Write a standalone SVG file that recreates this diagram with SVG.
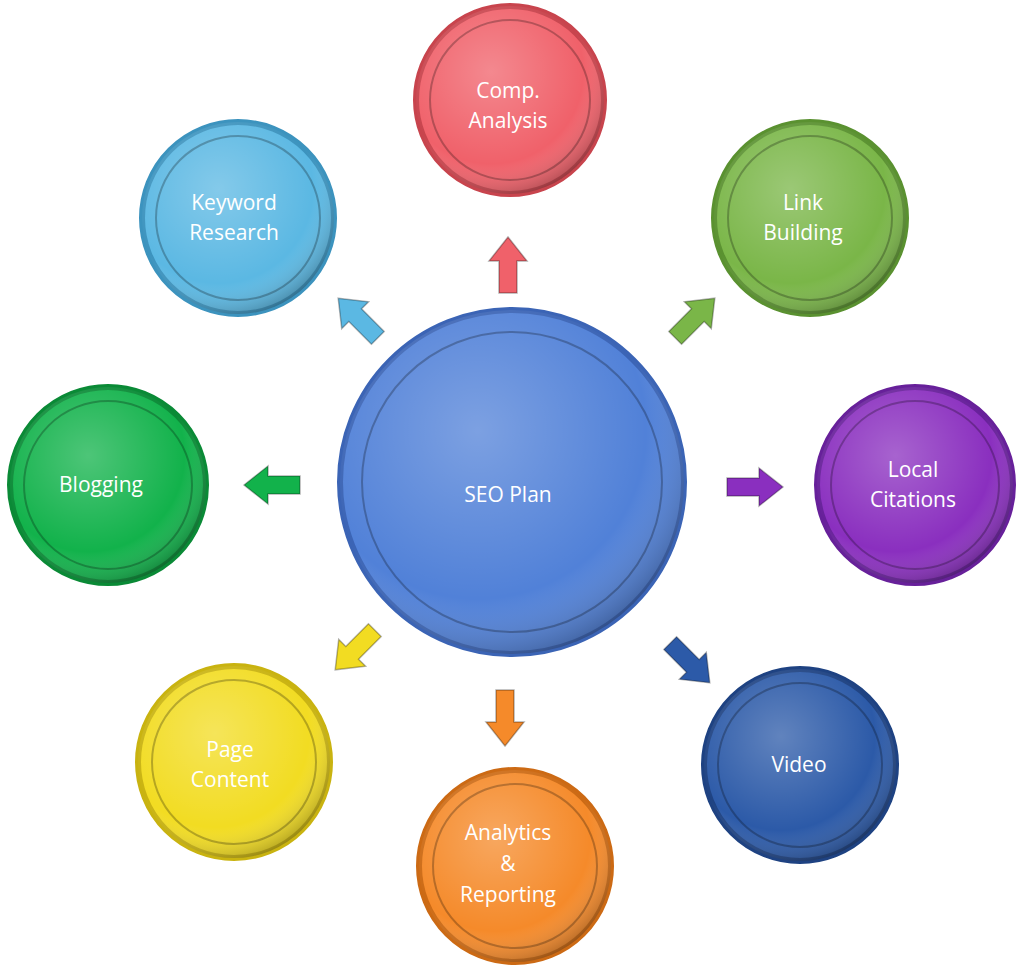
<svg xmlns="http://www.w3.org/2000/svg" width="1024" height="969" viewBox="0 0 1024 969">
<defs>
<radialGradient id="sh" cx="0.4" cy="0.35" r="0.7"><stop offset="0" stop-color="#fff" stop-opacity="0.25"/><stop offset="0.7" stop-color="#fff" stop-opacity="0"/><stop offset="1" stop-color="#000" stop-opacity="0.3"/></radialGradient>
<polygon id="arr" points="0,-28 19,-4 9,-4 9,28 -9,28 -9,-4 -19,-4"/>
</defs>
<style>
.rim{stroke-width:6}
.ring{fill:none;stroke:#000;stroke-opacity:0.25;stroke-width:2}
.t{font-family:"Open Sans","Liberation Sans",sans-serif;fill:#fff;font-size:21px;text-anchor:middle}
.a{stroke:#000;stroke-opacity:0.3;stroke-width:1.5}
</style>
<rect width="1024" height="969" fill="#fff"/>
<g id="connectors">
<use href="#arr" class="a" fill="#F0616A" transform="translate(508,265)"/>
<use href="#arr" class="a" fill="#5BB8E3" transform="translate(358,318) rotate(-45)"/>
<use href="#arr" class="a" fill="#7AB648" transform="translate(695,318) rotate(45)"/>
<use href="#arr" class="a" fill="#12B24B" transform="translate(272,485) rotate(-90)"/>
<use href="#arr" class="a" fill="#8A2FBF" transform="translate(755,487) rotate(90)"/>
<use href="#arr" class="a" fill="#F2DC22" transform="translate(355,650) rotate(-135)"/>
<use href="#arr" class="a" fill="#F58A2A" transform="translate(505,718) rotate(180)"/>
<use href="#arr" class="a" fill="#2C5AA8" transform="translate(690,663) rotate(135)"/>
</g>
<g id="center"><circle cx="512" cy="482" r="172" fill="#5181D8" stroke="#3B64B5" class="rim"/><circle cx="512" cy="482" r="172" fill="url(#sh)"/><circle cx="512" cy="482" r="150" class="ring"/><text class="t" x="508" y="502" font-size="44">SEO Plan</text></g>
<g id="comp"><circle cx="510" cy="100" r="94" fill="#F0616A" stroke="#C8444D" class="rim"/><circle cx="510" cy="100" r="94" fill="url(#sh)"/><circle cx="510" cy="100" r="80" class="ring"/><text class="t" x="508" y="98">Comp.</text><text class="t" x="508" y="128">Analysis</text></g>
<g id="keyword"><circle cx="238" cy="218" r="96" fill="#5BB8E3" stroke="#3C93BE" class="rim"/><circle cx="238" cy="218" r="96" fill="url(#sh)"/><circle cx="238" cy="218" r="82" class="ring"/><text class="t" x="234" y="210">Keyword</text><text class="t" x="234" y="240">Research</text></g>
<g id="link"><circle cx="810" cy="218" r="96" fill="#7AB648" stroke="#5A9130" class="rim"/><circle cx="810" cy="218" r="96" fill="url(#sh)"/><circle cx="810" cy="218" r="82" class="ring"/><text class="t" x="803" y="210">Link</text><text class="t" x="803" y="240">Building</text></g>
<g id="blogging"><circle cx="108" cy="485" r="98" fill="#12B24B" stroke="#0A8A36" class="rim"/><circle cx="108" cy="485" r="98" fill="url(#sh)"/><circle cx="108" cy="485" r="84" class="ring"/><text class="t" x="101" y="492">Blogging</text></g>
<g id="local"><circle cx="915" cy="485" r="98" fill="#8A2FBF" stroke="#67209A" class="rim"/><circle cx="915" cy="485" r="98" fill="url(#sh)"/><circle cx="915" cy="485" r="84" class="ring"/><text class="t" x="913" y="477">Local</text><text class="t" x="913" y="507">Citations</text></g>
<g id="page"><circle cx="234" cy="762" r="96" fill="#F2DC22" stroke="#C9B310" class="rim"/><circle cx="234" cy="762" r="96" fill="url(#sh)"/><circle cx="234" cy="762" r="82" class="ring"/><text class="t" x="230" y="757">Page</text><text class="t" x="230" y="787">Content</text></g>
<g id="analytics"><circle cx="515" cy="866" r="96" fill="#F58A2A" stroke="#CC6A14" class="rim"/><circle cx="515" cy="866" r="96" fill="url(#sh)"/><circle cx="515" cy="866" r="82" class="ring"/><text class="t" x="508" y="840">Analytics</text><text class="t" x="508" y="871">&amp;</text><text class="t" x="508" y="902">Reporting</text></g>
<g id="video"><circle cx="800" cy="765" r="96" fill="#2C5AA8" stroke="#1E4282" class="rim"/><circle cx="800" cy="765" r="96" fill="url(#sh)"/><circle cx="800" cy="765" r="82" class="ring"/><text class="t" x="799" y="772">Video</text></g>
</svg>
